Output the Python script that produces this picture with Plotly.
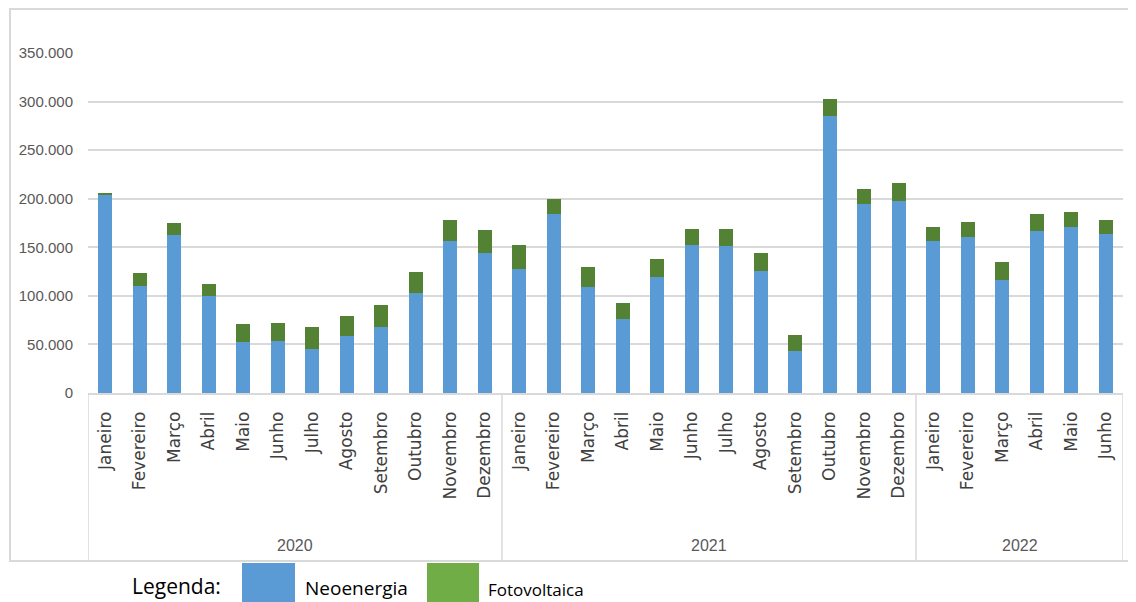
import plotly.graph_objects as go

months = ["Janeiro", "Fevereiro", "Março", "Abril", "Maio", "Junho", "Julho", "Agosto",
          "Setembro", "Outubro", "Novembro", "Dezembro",
          "Janeiro", "Fevereiro", "Março", "Abril", "Maio", "Junho", "Julho", "Agosto",
          "Setembro", "Outubro", "Novembro", "Dezembro",
          "Janeiro", "Fevereiro", "Março", "Abril", "Maio", "Junho"]
year_labels = ["2020", "2021", "2022"]
year_counts = [12, 12, 6]

neoenergia = [204000, 110100, 162500, 99500, 52100, 53500, 45300, 58600, 67900, 103200, 156000, 144400,
              127200, 183800, 108700, 75800, 119300, 151900, 150900, 125900, 42900, 285300, 194400, 197200,
              156400, 160200, 116600, 167000, 170400, 163900]
fotovoltaica = [2000, 13100, 13000, 13000, 18500, 18200, 22300, 20900, 22300, 21000, 22300, 23600,
                24700, 15800, 20900, 16800, 18500, 17200, 18200, 18100, 17100, 17200, 15800, 18500,
                14000, 15800, 18200, 16800, 16100, 14400]
y_ticks = [0, 50000, 100000, 150000, 200000, 250000, 300000, 350000]

BLUE = "#5B9BD5"
GREEN_BAR = "#548235"
GREEN_LEG = "#70AD47"
GRID = "#D9D9D9"

# page body has an 8px default margin: lay out the figure 8px smaller so it fits the window
OFF = 8
W, H = 1136 - OFF, 602 - OFF
ML, MR, MT, MB = 88 - OFF, 13, 53 - OFF, 209
PW, PH = W - ML - MR, H - MT - MB


def px(xp):
    return (xp - OFF - ML) / PW


def py(yp):
    return (H - MB - (yp - OFF)) / PH


xpos = list(range(len(months)))

fig = go.Figure()
fig.add_trace(go.Bar(x=xpos, y=neoenergia, name="Neoenergia", marker=dict(color=BLUE, line=dict(width=0))))
fig.add_trace(go.Bar(x=xpos, y=fotovoltaica, name="Fotovoltaica", marker=dict(color=GREEN_BAR, line=dict(width=0))))

shapes = []
annotations = []

# year group dividers and labels
start = 0
bounds = [-0.5]
for lab, cnt in zip(year_labels, year_counts):
    center = start + (cnt - 1) / 2
    annotations.append(dict(x=center, xref="x", y=py(545), yref="paper", text=lab, showarrow=False,
                            xanchor="center", yanchor="middle",
                            font=dict(family="Liberation Sans", size=16, color="#595959")))
    start += cnt
    bounds.append(start - 0.5)
for b in bounds:
    shapes.append(dict(type="line", xref="x", yref="paper", x0=b, x1=b, y0=0, y1=py(561),
                       line=dict(color=GRID, width=1.5)))

# outer frame
shapes.append(dict(type="rect", xref="paper", yref="paper", x0=px(10), x1=px(1142), y0=py(561), y1=py(9),
                   line=dict(color=GRID, width=2), fillcolor="rgba(0,0,0,0)", layer="below"))

# legend
shapes.append(dict(type="rect", xref="paper", yref="paper", x0=px(242), x1=px(295), y0=py(606), y1=py(563),
                   line=dict(width=0), fillcolor=BLUE))
shapes.append(dict(type="rect", xref="paper", yref="paper", x0=px(427), x1=px(479), y0=py(606), y1=py(563),
                   line=dict(width=0), fillcolor=GREEN_LEG))
annotations.append(dict(x=px(130), y=py(586), xref="paper", yref="paper", text="Legenda:", showarrow=False,
                        xanchor="left", yanchor="middle", font=dict(family="Open Sans", size=21, color="#000000")))
annotations.append(dict(x=px(303), y=py(588), xref="paper", yref="paper", text="Neoenergia", showarrow=False,
                        xanchor="left", yanchor="middle", font=dict(family="Open Sans", size=19, color="#000000")))
annotations.append(dict(x=px(486), y=py(589), xref="paper", yref="paper", text="Fotovoltaica", showarrow=False,
                        xanchor="left", yanchor="middle", font=dict(family="Open Sans", size=17, color="#000000")))

fig.update_layout(
    width=W, height=H,
    margin=dict(l=ML, r=MR, t=MT, b=MB, pad=0),
    barmode="stack", bargap=0.6,
    paper_bgcolor="white", plot_bgcolor="white",
    showlegend=False,
    separators=",.",
    shapes=shapes, annotations=annotations,
    xaxis=dict(range=[-0.5, len(months) - 0.5], tickmode="array", tickvals=xpos, ticktext=months,
               tickangle=-90, ticks="", showgrid=False, zeroline=False, automargin=False,
               showline=True, linecolor=GRID, linewidth=1.5, ticklabelstandoff=10,
               tickfont=dict(family="DejaVu Sans", size=17, color="#404040")),
    yaxis=dict(range=[0, 350000], tickmode="array", tickvals=y_ticks, tickformat=",d",
               showgrid=True, gridcolor=GRID, gridwidth=1.5, zeroline=False, showline=False,
               ticks="", ticklabelstandoff=14, automargin=False,
               tickfont=dict(family="Liberation Sans", size=15, color="#595959")),
)

fig.write_html("out.html")
